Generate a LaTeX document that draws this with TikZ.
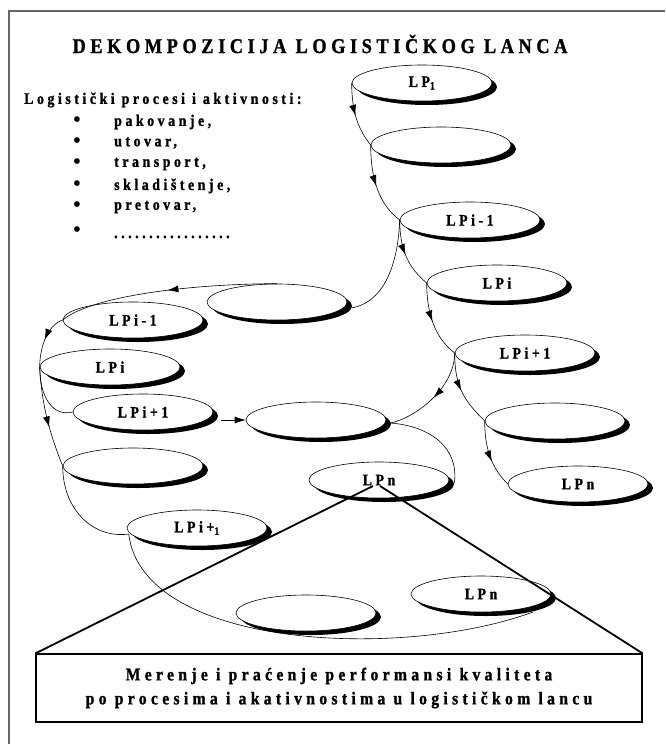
\documentclass[tikz,border=0pt]{standalone}
\usepackage{fontspec}
\setmainfont{Liberation Serif}
\newfontfamily\lsfont[FakeStretch=0.87, LetterSpace=22, BoldFeatures={FakeBold=1.2}]{Liberation Serif}
\newfontfamily\bxfont[FakeStretch=0.87, LetterSpace=24, BoldFeatures={FakeBold=1.2}]{Liberation Serif}
\newfontfamily\ttlfont[FakeStretch=0.87, LetterSpace=22, BoldFeatures={FakeBold=1.2}]{Liberation Serif}
\usetikzlibrary{shapes.geometric,shadows,decorations.markings,arrows.meta,calc}
\begin{document}
\begin{tikzpicture}[x=1pt,y=-1pt,
  lp/.style={ellipse, draw, line width=0.6pt, fill=white, minimum width=140pt, minimum height=36pt, inner sep=0pt,
    font=\lsfont\bfseries\fontsize{16}{18}\selectfont,
    general shadow={fill=black, shadow xshift=5pt, shadow yshift=-4pt}},
  conn/.style={line width=0.6pt},
  midarrow/.style={postaction={decorate}, decoration={markings, mark=at position #1 with {\arrow{Latex[length=11pt,width=7pt]}}}},
  midarrow/.default=0.5,
  thickline/.style={line width=1.8pt},
  txt/.style={font=\lsfont\bfseries\fontsize{16}{18}\selectfont, inner sep=0pt},
  bul/.style={font=\bfseries\fontsize{21}{22}\selectfont, inner sep=0pt},
]
\useasboundingbox (0,0) rectangle (665,744);
% frame
\draw[line width=1.6pt, black!60] (9,744) -- (9,11) -- (665,11);

% title and list
\node[font=\ttlfont\bfseries\fontsize{21}{24}\selectfont, inner sep=0pt] (title) at (320,44) {DEKOMPOZICIJA LOGISTIČKOG LANCA};
\node[txt, anchor=west] (hdr) at (24,100) {Logistički procesi i aktivnosti:};
\node[bul] (b1) at (77,122) {•};
\node[txt, anchor=west] (i1) at (114,122) {pakovanje,};
\node[bul] (b2) at (77,143) {•};
\node[txt, anchor=west] (i2) at (114,143) {utovar,};
\node[bul] (b3) at (77,164) {•};
\node[txt, anchor=west] (i3) at (114,164) {transport,};
\node[bul] (b4) at (77,186) {•};
\node[txt, anchor=west] (i4) at (114,186) {skladištenje,};
\node[bul] (b5) at (77,207) {•};
\node[txt, anchor=west] (i5) at (114,207) {pretovar,};
\node[bul] (b6) at (77,232) {•};
\node[txt, anchor=base west] (i6) at (114,238) {.................};

% ellipses
\node[lp] (e1) at (422,83) {LP\textsubscript{1}};
\node[lp] (e2) at (441,145) {};
\node[lp] (e3) at (470,220) {LPi-1};
\node[lp] (e4) at (497,283) {LPi};
\node[lp] (e5) at (525,353) {LPi+1};
\node[lp] (e6) at (555,421) {};
\node[lp] (e7) at (578,484) {LPn};
\node[lp] (e8) at (277,302) {};
\node[lp] (e9) at (133,320) {LPi-1};
\node[lp] (e10) at (110,367) {LPi};
\node[lp] (e11) at (143,412) {LPi+1};
\node[lp] (e12) at (316,420) {};
\node[lp] (e13) at (133,466) {};
\node[lp] (e14) at (379,480) {LPn};
\node[lp] (e15) at (197,528) {LPi+\textsubscript{1}};
\node[lp] (e16) at (481,594) {LPn};
\node[lp] (e17) at (306,613) {};

% box
\node[draw, line width=1.2pt, fill=white, minimum width=606pt, minimum height=68pt, inner sep=0pt, align=center,
  font=\bxfont\bfseries\fontsize{18}{24}\selectfont] (box) at (339,688)
  {Merenje i praćenje performansi kvaliteta\\po procesima i akativnostima u logističkom lancu};

% connectors
\draw[conn,midarrow] (e1.west) .. controls +(0,30) and +(-12,-15) .. (e2.west);
\draw[conn,midarrow] (e2.west) .. controls +(0,35) and +(-20,-15) .. (e3.west);
\draw[conn,midarrow] (e3.west) .. controls +(0,30) and +(-18,-15) .. (e4.west);
\draw[conn] (e3.west) .. controls +(-2,50) and +(30,-5) .. ($(e8.east)+(4,6)$);
\draw[conn,midarrow] (e8.north) .. controls +(-80,0) and +(30,-25) .. (e9.west);
\draw[conn,midarrow] (e9.west) .. controls +(-15,5) and +(0,-20) .. (e10.west);
\draw[conn] (e10.west) .. controls +(0,30) and +(-20,5) .. (e11.west);
\draw[conn,midarrow=0.6] (e10.west) .. controls +(2,40) and +(-12,-30) .. (e13.west);
\draw[conn] (e13.west) .. controls +(0,44) and +(-35,5) .. ($(e15.west)+(2,6)$);
\draw[conn] ($(e15.west)+(2,6)$) .. controls +(14,115) and +(-130,48) .. ($(e16.center)+(52,18)$);
\draw[conn,-{Latex[length=11pt,width=7pt]}] ($(e11.east |- e12.west)+(8,0)$) -- (e12.west);
\draw[conn,midarrow] (e4.west) .. controls +(0,30) and +(-20,-15) .. (e5.west);
\draw[conn,midarrow] (e5.west) .. controls +(0,35) and +(25,-5) .. ($(e12.east)+(4,3)$);
\draw[conn] ($(e12.east)+(4,3)$) .. controls +(40,3) and +(5,-35) .. ($(e14.east)+(5,3)$);
\draw[conn,midarrow] (e5.west) .. controls +(0,35) and +(-20,-20) .. (e6.west);
\draw[conn,midarrow=0.6] (e6.west) .. controls +(0,30) and +(-15,-15) .. (e7.west);

% thick lines to the box
\coordinate (tl) at ($(e14.center)+(-6,6)$);
\coordinate (tr) at ($(e14.center)+(1,6)$);
\draw[thickline] (tl) -- (box.north west);
\draw[thickline] (tr) -- (box.north east);
\end{tikzpicture}
\end{document}
